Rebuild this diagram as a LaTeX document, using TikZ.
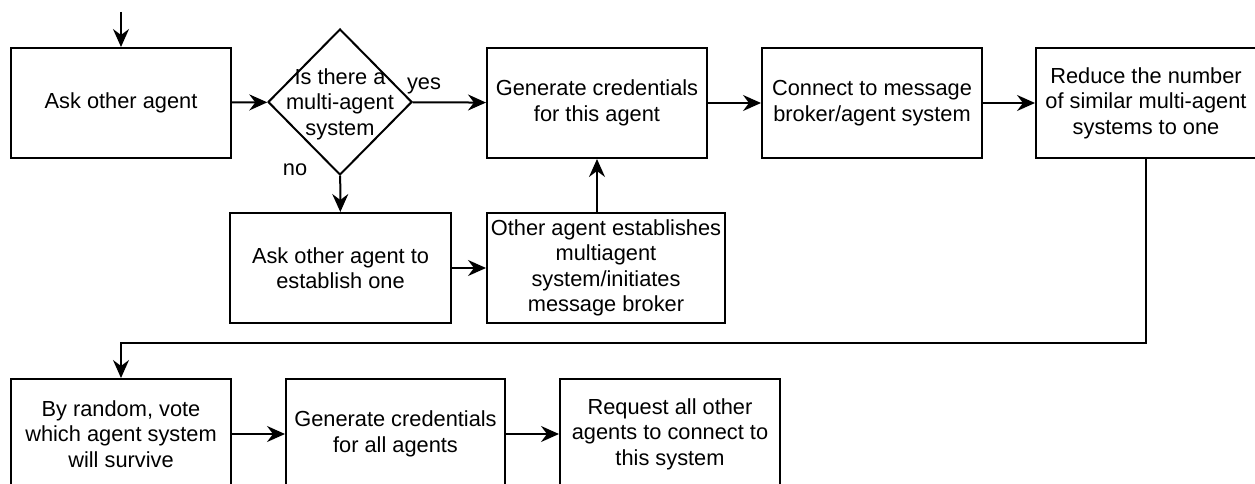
\documentclass[tikz,border=0pt]{standalone}
\usepackage{fontspec}
\setmainfont{Liberation Sans}
\usetikzlibrary{arrows.meta,shapes.geometric}

\begin{document}
\begin{tikzpicture}[x=1pt,y=-1pt,font=\fontsize{21.8}{25.5}\selectfont,
  stepbox/.style={draw,line width=2pt,minimum width=220pt,minimum height=110pt,inner sep=0pt,align=center},
  decision/.style={draw,diamond,line width=2pt,minimum width=144pt,minimum height=146pt,inner sep=0pt},
  flow/.style={line width=2pt,-{Stealth[length=18pt,width=16pt,inset=6pt]}}]
\useasboundingbox (0,0) rectangle (1255,484);
% first row
\node[stepbox] (ask) at (121,103) {Ask other agent};
\node[decision] (mas) at (340,102) {};
\node[align=center] (mastext) at (340,104) {Is there a\\multi-agent\\system};
\node[stepbox] (cred) at (597,103) {Generate credentials\\for this agent};
\node[stepbox] (conn) at (872,103) {Connect to message\\broker/agent system};
\node[stepbox] (reduce) at (1146,103) {Reduce the number\\of similar multi-agent\\systems to one};
% second row
\node[stepbox,minimum width=221pt] (askest) at (340.5,268) {Ask other agent to\\establish one};
\node[stepbox,minimum width=238pt] (other) at (606,268) {Other agent establishes\\multiagent\\system/initiates\\message broker};
% third row
\node[stepbox] (vote) at (121,434) {By random, vote\\which agent system\\will survive};
\node[stepbox,minimum width=219pt] (credall) at (395.5,434) {Generate credentials\\for all agents};
\node[stepbox] (request) at (670,434) {Request all other\\agents to connect to\\this system};
\node (yes) at (424,86) {yes};
\node (no) at (295,170) {no};
\coordinate (start) at (121,12);
\draw[flow] (start) -- (ask);
\draw[flow] (ask) -- (mas);
\draw[flow] (mas) -- (cred);
\draw[flow] (cred) -- (conn);
\draw[flow] (conn) -- (reduce);
\draw[flow] (mas) -- (askest);
\draw[flow] (askest) -- (other);
\draw[flow] (cred.south |- other.north) -- (cred.south);
\draw[flow] (reduce.south) -- ++(0,184) -| (vote.north);
\draw[flow] (vote) -- (credall);
\draw[flow] (credall) -- (request);
\end{tikzpicture}
\end{document}
